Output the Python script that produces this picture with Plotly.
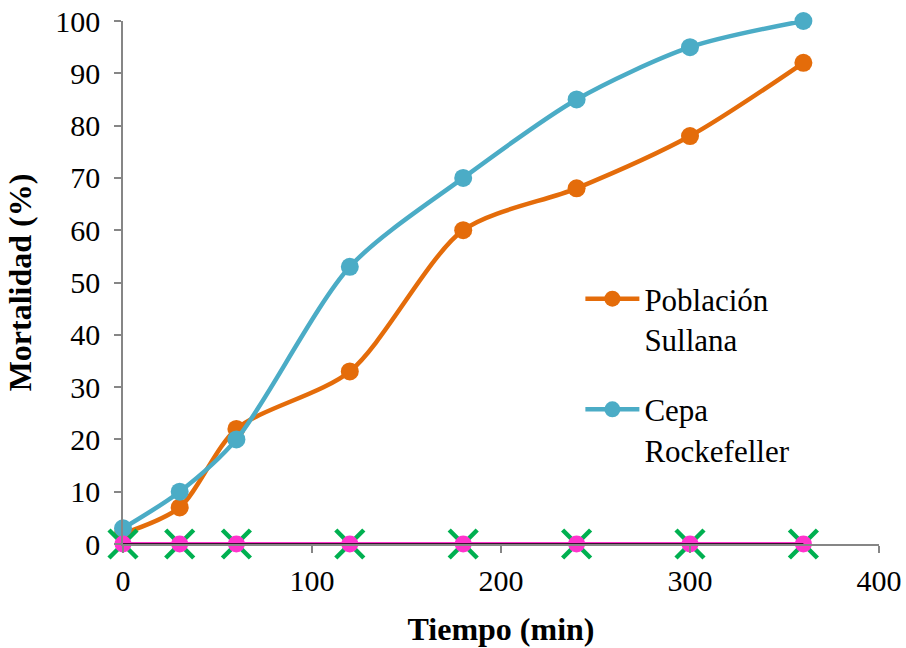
import plotly.graph_objects as go

tiempo = [0, 30, 60, 120, 180, 240, 300, 360]
sullana = [2, 7, 22, 33, 60, 68, 78, 92]
rockefeller = [3, 10, 20, 53, 70, 85, 95, 100]
control_a = [0, 0, 0, 0, 0, 0, 0, 0]
control_b = [0, 0, 0, 0, 0, 0, 0, 0]
control_c = [0, 0, 0, 0, 0, 0, 0, 0]

FONT = "'Liberation Serif', 'Times New Roman', Times, serif"
fig = go.Figure()

fig.add_trace(go.Scatter(x=tiempo, y=sullana, name="Población<br>Sullana",
    mode="lines+markers", line=dict(color="#E46C0A", width=4.5, shape="spline", smoothing=0.8),
    marker=dict(size=18, color="#E46C0A"), cliponaxis=False, legendgroup="a"))
fig.add_trace(go.Scatter(x=tiempo, y=rockefeller, name="Cepa<br>Rockefeller",
    mode="lines+markers", line=dict(color="#4BACC6", width=4.5, shape="spline", smoothing=0.8),
    marker=dict(size=18, color="#4BACC6"), cliponaxis=False, legendgroup="b"))
fig.add_trace(go.Scatter(x=tiempo, y=control_a, mode="markers", showlegend=False,
    marker=dict(symbol="x-thin", size=28, line=dict(color="#00B050", width=4.5)), cliponaxis=False))
fig.add_trace(go.Scatter(x=tiempo, y=control_b, mode="lines+markers", showlegend=False,
    line=dict(color="#FF33CC", width=4), marker=dict(size=17, color="#FF33CC"), cliponaxis=False))
fig.add_trace(go.Scatter(x=tiempo, y=control_c, mode="lines", showlegend=False,
    line=dict(color="#000000", width=1.5), cliponaxis=False))

axis_common = dict(showline=True, linecolor="#868686", linewidth=1.5, ticks="outside",
                   tickcolor="#868686", ticklen=7, tickwidth=1.5, showgrid=False, zeroline=False,
                   automargin=False, tickfont=dict(family=FONT, size=30, color="black"))

fig.update_layout(
    width=906, height=648, paper_bgcolor="white", plot_bgcolor="white",
    margin=dict(l=123, r=27, t=21, b=104),
    xaxis=dict(range=[0, 400], dtick=100, **axis_common, ticklabelstandoff=2,
               title=dict(text="<b>Tiempo (min)</b>", font=dict(family=FONT, size=32, color="black"), standoff=22)),
    yaxis=dict(range=[0, 100], dtick=10, **axis_common, ticklabelstandoff=8,
               title=dict(text="<b>Mortalidad (%)</b>", font=dict(family=FONT, size=32, color="black"), standoff=14)),
    legend=dict(x=0.605, y=0.52, xanchor="left", yanchor="top", bgcolor="rgba(0,0,0,0)",
                font=dict(family=FONT, size=31, color="black"), valign="top", tracegroupgap=27,
                itemwidth=54),
    showlegend=True,
)

fig.write_html("out.html", post_script="document.body.style.margin='0';",
               config={"displayModeBar": False})
